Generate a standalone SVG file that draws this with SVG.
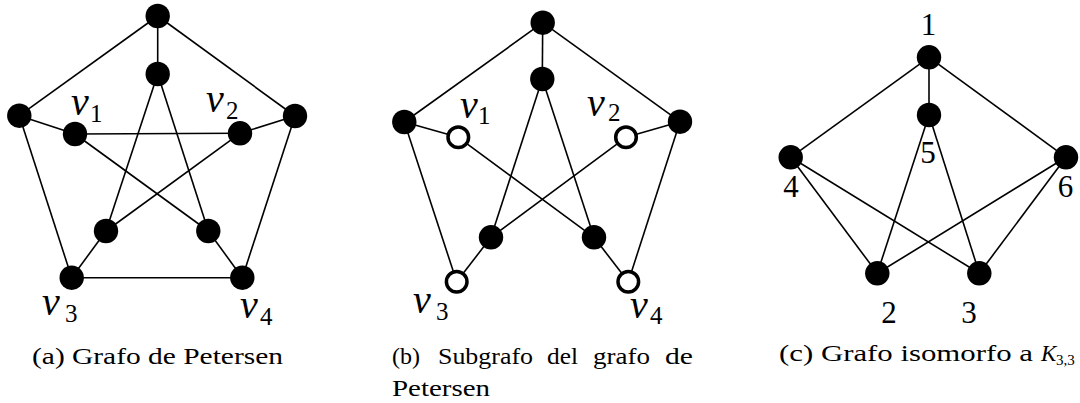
<svg xmlns="http://www.w3.org/2000/svg" width="1080" height="403" viewBox="0 0 1080 403">
<style>
.e{stroke:#000;stroke-width:1.6;fill:none}
.f{fill:#000}
.h{fill:#fff;stroke:#000;stroke-width:3.5}
.t{font-family:"Liberation Serif","DejaVu Serif",serif;fill:#000}
.v{font-style:italic;font-size:40px}
.s{font-size:25px;font-style:normal}
.n{font-size:31px}
.c{font-size:23px}
</style>
<rect width="1080" height="403" fill="#fff"/>
<g id="connectors">
<g id="edges-a">
<line class="e" x1="157.7" y1="16" x2="19.3" y2="115.7"/>
<line class="e" x1="157.7" y1="16" x2="295" y2="116"/>
<line class="e" x1="157.7" y1="16" x2="157.7" y2="74"/>
<line class="e" x1="19.3" y1="115.7" x2="71.7" y2="277.7"/>
<line class="e" x1="295" y1="116" x2="242.3" y2="277.7"/>
<line class="e" x1="71.7" y1="277.7" x2="242.3" y2="277.7"/>
<line class="e" x1="19.3" y1="115.7" x2="75" y2="134"/>
<line class="e" x1="295" y1="116" x2="240" y2="133.3"/>
<line class="e" x1="71.7" y1="277.7" x2="106" y2="231"/>
<line class="e" x1="242.3" y1="277.7" x2="208.3" y2="231"/>
<line class="e" x1="157.7" y1="74" x2="106" y2="231"/>
<line class="e" x1="157.7" y1="74" x2="208.3" y2="231"/>
<line class="e" x1="75" y1="134" x2="240" y2="133.3"/>
<line class="e" x1="75" y1="134" x2="208.3" y2="231"/>
<line class="e" x1="240" y1="133.3" x2="106" y2="231"/>
</g>
<g id="edges-b">
<line class="e" x1="542.7" y1="22.7" x2="404.3" y2="122"/>
<line class="e" x1="542.7" y1="22.7" x2="680" y2="121.7"/>
<line class="e" x1="542.7" y1="22.7" x2="542.3" y2="79"/>
<line class="e" x1="404.3" y1="122" x2="458.3" y2="137.3"/>
<line class="e" x1="680" y1="121.7" x2="626" y2="137.3"/>
<line class="e" x1="404.3" y1="122" x2="456.7" y2="281.7"/>
<line class="e" x1="680" y1="121.7" x2="628.3" y2="281.7"/>
<line class="e" x1="542.3" y1="79" x2="491" y2="237.3"/>
<line class="e" x1="542.3" y1="79" x2="594" y2="237.3"/>
<line class="e" x1="458.3" y1="137.3" x2="594" y2="237.3"/>
<line class="e" x1="626" y1="137.3" x2="491" y2="237.3"/>
<line class="e" x1="491" y1="237.3" x2="456.7" y2="281.7"/>
<line class="e" x1="594" y1="237.3" x2="628.3" y2="281.7"/>
</g>
<g id="edges-c">
<line class="e" x1="929" y1="57.3" x2="790.7" y2="157.3"/>
<line class="e" x1="929" y1="57.3" x2="929" y2="115"/>
<line class="e" x1="929" y1="57.3" x2="1066" y2="157.3"/>
<line class="e" x1="790.7" y1="157.3" x2="877.3" y2="273.3"/>
<line class="e" x1="790.7" y1="157.3" x2="979.3" y2="273.3"/>
<line class="e" x1="929" y1="115" x2="877.3" y2="273.3"/>
<line class="e" x1="929" y1="115" x2="979.3" y2="273.3"/>
<line class="e" x1="1066" y1="157.3" x2="877.3" y2="273.3"/>
<line class="e" x1="1066" y1="157.3" x2="979.3" y2="273.3"/>
</g>
</g>
<g id="a-top"><circle class="f" cx="157.7" cy="16" r="12.2"/></g>
<g id="a-innertop"><circle class="f" cx="157.7" cy="74" r="12.2"/></g>
<g id="a-left"><circle class="f" cx="19.3" cy="115.7" r="12.2"/></g>
<g id="a-right"><circle class="f" cx="295" cy="116" r="12.2"/></g>
<g id="a-v1"><circle class="f" cx="75" cy="134" r="12.2"/><text class="t v" x="71" y="115">v<tspan class="s" x="90" y="122">1</tspan></text></g>
<g id="a-v2"><circle class="f" cx="240" cy="133.3" r="12.2"/><text class="t v" x="206" y="112">v<tspan class="s" x="226" y="119">2</tspan></text></g>
<g id="a-innerbl"><circle class="f" cx="106" cy="231" r="12.2"/></g>
<g id="a-innerbr"><circle class="f" cx="208.3" cy="231" r="12.2"/></g>
<g id="a-v3"><circle class="f" cx="71.7" cy="277.7" r="12.2"/><text class="t v" x="42" y="315">v<tspan class="s" x="65" y="322">3</tspan></text></g>
<g id="a-v4"><circle class="f" cx="242.3" cy="277.7" r="12.2"/><text class="t v" x="240" y="318">v<tspan class="s" x="260" y="325">4</tspan></text></g>
<g id="b-top"><circle class="f" cx="542.7" cy="22.7" r="12.2"/></g>
<g id="b-innertop"><circle class="f" cx="542.3" cy="79" r="12.2"/></g>
<g id="b-left"><circle class="f" cx="404.3" cy="122" r="12.2"/></g>
<g id="b-right"><circle class="f" cx="680" cy="121.7" r="12.2"/></g>
<g id="b-v1"><circle class="h" cx="458.3" cy="137.3" r="10.3"/><text class="t v" x="460" y="118">v<tspan class="s" x="478" y="124">1</tspan></text></g>
<g id="b-v2"><circle class="h" cx="626" cy="137.3" r="10.3"/><text class="t v" x="587" y="116">v<tspan class="s" x="608" y="121">2</tspan></text></g>
<g id="b-innerbl"><circle class="f" cx="491" cy="237.3" r="12.2"/></g>
<g id="b-innerbr"><circle class="f" cx="594" cy="237.3" r="12.2"/></g>
<g id="b-v3"><circle class="h" cx="456.7" cy="281.7" r="10.3"/><text class="t v" x="413" y="313">v<tspan class="s" x="436" y="320">3</tspan></text></g>
<g id="b-v4"><circle class="h" cx="628.3" cy="281.7" r="10.3"/><text class="t v" x="630" y="318">v<tspan class="s" x="650" y="324">4</tspan></text></g>
<g id="c-1"><circle class="f" cx="929" cy="57.3" r="12.2"/><text class="t n" x="928.5" y="35" text-anchor="middle">1</text></g>
<g id="c-5"><circle class="f" cx="929" cy="115" r="12.2"/><text class="t n" x="928" y="163" text-anchor="middle">5</text></g>
<g id="c-4"><circle class="f" cx="790.7" cy="157.3" r="12.2"/><text class="t n" x="791" y="197" text-anchor="middle">4</text></g>
<g id="c-6"><circle class="f" cx="1066" cy="157.3" r="12.2"/><text class="t n" x="1065.5" y="197" text-anchor="middle">6</text></g>
<g id="c-2"><circle class="f" cx="877.3" cy="273.3" r="12.2"/><text class="t n" x="889" y="323" text-anchor="middle">2</text></g>
<g id="c-3"><circle class="f" cx="979.3" cy="273.3" r="12.2"/><text class="t n" x="969" y="323" text-anchor="middle">3</text></g>
<g id="captions">
<text class="t c" x="32" y="364" textLength="251" lengthAdjust="spacingAndGlyphs">(a) Grafo de Petersen</text>
<text class="t c" y="364"><tspan x="392" textLength="28" lengthAdjust="spacingAndGlyphs">(b)</tspan><tspan x="438" textLength="95" lengthAdjust="spacingAndGlyphs">Subgrafo</tspan><tspan x="547" textLength="31" lengthAdjust="spacingAndGlyphs">del</tspan><tspan x="593" textLength="57" lengthAdjust="spacingAndGlyphs">grafo</tspan><tspan x="665" textLength="28" lengthAdjust="spacingAndGlyphs">de</tspan></text>
<text class="t c" x="392" y="396" textLength="98" lengthAdjust="spacingAndGlyphs">Petersen</text>
<text class="t c" x="779" y="361" textLength="254" lengthAdjust="spacingAndGlyphs">(c) Grafo isomorfo a</text>
<text class="t c" x="1041" y="361" font-style="italic">K<tspan font-size="15px" font-style="normal" x="1056" y="365">3,3</tspan></text>
</g>
</svg>
